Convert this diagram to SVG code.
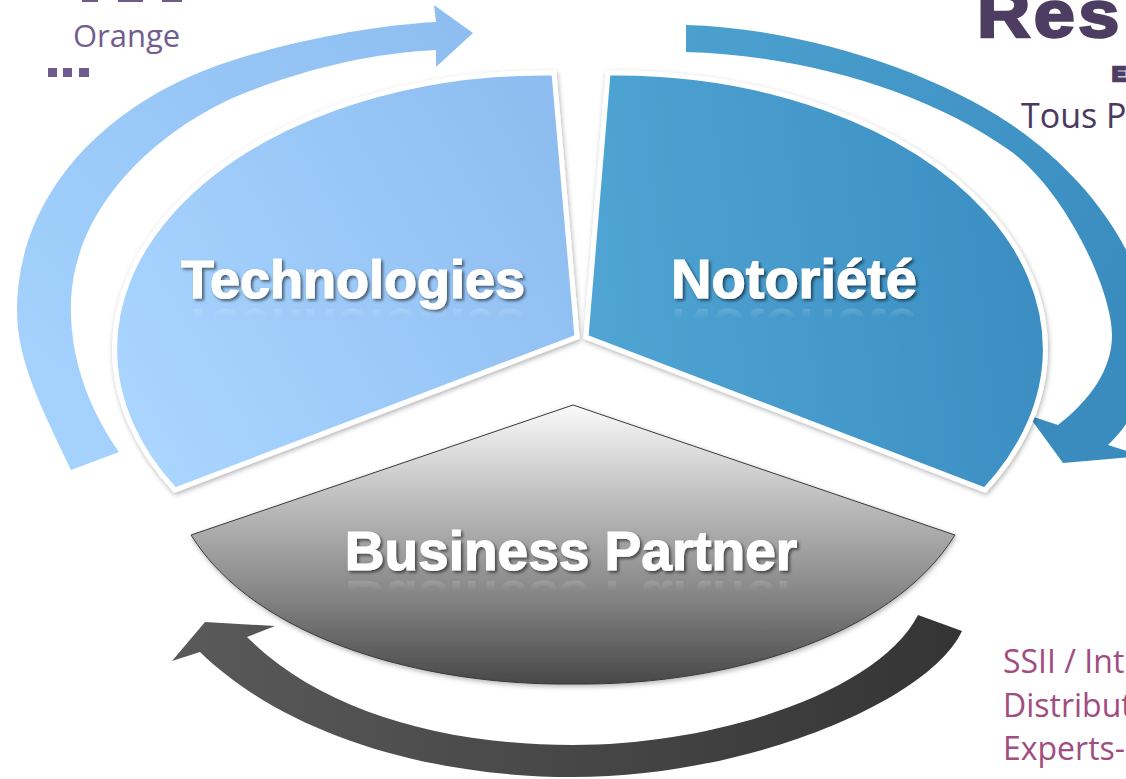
<svg xmlns="http://www.w3.org/2000/svg" width="1126" height="779" viewBox="0 0 1126 779">
  <defs>
    <style>
      .lbl { font-family: "Liberation Sans", Arial, sans-serif; font-weight: bold; fill: #ffffff; stroke: #ffffff; stroke-width: 1.2; }
      .refl { font-family: "Liberation Sans", Arial, sans-serif; font-weight: bold; fill: #ffffff; }
      .side { font-family: "Open Sans", "Liberation Sans", sans-serif; }
      .heavy { font-family: "Liberation Sans", Arial, sans-serif; font-weight: bold; fill: #4E3D62; stroke: #4E3D62; stroke-width: 2.5; }
    </style>
    <linearGradient id="gTech" x1="130" y1="420" x2="580" y2="150" gradientUnits="userSpaceOnUse">
      <stop offset="0" stop-color="#A9D5FF"/>
      <stop offset="1" stop-color="#8DBCF0"/>
    </linearGradient>
    <linearGradient id="gArrL" x1="60" y1="460" x2="470" y2="30" gradientUnits="userSpaceOnUse">
      <stop offset="0" stop-color="#A6D3FE"/>
      <stop offset="1" stop-color="#8EBEF1"/>
    </linearGradient>
    <linearGradient id="gNoto" x1="600" y1="300" x2="1030" y2="250" gradientUnits="userSpaceOnUse">
      <stop offset="0" stop-color="#4FA4D3"/>
      <stop offset="1" stop-color="#3B8EC2"/>
    </linearGradient>
    <linearGradient id="gArrR" x1="690" y1="40" x2="1126" y2="300" gradientUnits="userSpaceOnUse">
      <stop offset="0" stop-color="#4BA0CF"/>
      <stop offset="1" stop-color="#3A8CBF"/>
    </linearGradient>
    <linearGradient id="gBP" x1="0" y1="405" x2="0" y2="686" gradientUnits="userSpaceOnUse">
      <stop offset="0" stop-color="#FAFAFA"/>
      <stop offset="0.3" stop-color="#C4C4C4"/>
      <stop offset="0.65" stop-color="#8A8A8A"/>
      <stop offset="1" stop-color="#474747"/>
    </linearGradient>
    <linearGradient id="gArrB" x1="170" y1="0" x2="965" y2="0" gradientUnits="userSpaceOnUse">
      <stop offset="0" stop-color="#5A5A5A"/>
      <stop offset="1" stop-color="#343434"/>
    </linearGradient>
    <linearGradient id="gFade" x1="0" y1="0" x2="0" y2="1">
      <stop offset="0" stop-color="#fff" stop-opacity="0.2"/>
      <stop offset="1" stop-color="#fff" stop-opacity="0"/>
    </linearGradient>
    <mask id="mRefl1" maskUnits="userSpaceOnUse" x="0" y="300" width="1126" height="30">
      <rect x="0" y="305" width="1126" height="14" fill="url(#gFade)"/>
    </mask>
    <mask id="mRefl2" maskUnits="userSpaceOnUse" x="0" y="572" width="1126" height="30">
      <rect x="0" y="577" width="1126" height="14" fill="url(#gFade)"/>
    </mask>
    <filter id="fShadow" x="-10%" y="-10%" width="120%" height="120%">
      <feDropShadow dx="1" dy="2" stdDeviation="2.5" flood-color="#000" flood-opacity="0.3"/>
    </filter>
    <filter id="fText" x="-5%" y="-20%" width="110%" height="140%">
      <feDropShadow dx="2" dy="2" stdDeviation="1.5" flood-color="#000" flood-opacity="0.55"/>
    </filter>
  </defs>

  <rect width="1126" height="779" fill="#ffffff"/>

  <!-- side texts -->
  <g id="text-left">
    <rect x="82" y="0" width="16" height="2" fill="#6F5A8D"/>
    <rect x="118" y="0" width="25" height="2" fill="#6F5A8D"/>
    <rect x="162" y="0" width="20" height="2" fill="#6F5A8D"/>
    <text class="side" x="73" y="47" font-size="31" fill="#725D90">Orange</text>
    <rect x="48" y="68" width="9" height="9" fill="#6F5A8D"/>
    <rect x="63" y="68" width="9" height="9" fill="#6F5A8D"/>
    <rect x="79" y="68" width="10" height="9" fill="#6F5A8D"/>
  </g>
  <g id="text-right-top">
    <text class="heavy" font-size="66" letter-spacing="3" transform="translate(977,37) scale(1.12,1)">Res</text>
    <text class="heavy" x="1112" y="81" font-size="21" stroke-width="1">E</text>
    <text class="side" x="1021" y="128" font-size="34" fill="#4A3A5E">Tous P</text>
  </g>
  <g id="text-right-bottom" fill="#A14D7F">
    <text class="side" x="1003" y="673" font-size="32">SSII / Int</text>
    <text class="side" x="1003" y="717" font-size="32">Distribut</text>
    <text class="side" x="1003" y="760" font-size="32">Experts-</text>
  </g>

  <!-- connectors (cycle arrows) -->
  <g id="connectors">
    <path id="arrow-left" fill="url(#gArrL)" d="M 71,470 C 40,405 17,360 17,310 C 17,200 100,100 240,58 C 310,37 380,25 436,22 L 434,5 L 473,33 L 436,67 L 436,50 C 370,53 300,70 235,97 C 150,135 75,210 71,300 C 69,360 90,410 119,452 Z"/>
    <path id="arrow-right" fill="url(#gArrR)" d="M 686,25 C 800,28 930,70 1009,123 C 1088,176 1150,260 1150,340 C 1150,390 1130,425 1108,445 L 1142,456 L 1063,463 L 1028,415 L 1058,425 C 1090,400 1112,370 1112,335 C 1112,290 1065,190 1009,150 C 925,90 800,55 686,52 Z"/>
    <path id="arrow-bottom" fill="url(#gArrB)" d="M 962,631 C 930,700 750,777 573,777 C 420,777 280,730 200,652 L 172,661 L 205,622 L 275,626 L 247,637 C 320,710 440,745 573,745 C 720,745 880,690 918,615 Z"/>
  </g>

  <!-- nodes -->
  <g id="node-technologies">
    <path filter="url(#fShadow)" fill="url(#gTech)" stroke="#ffffff" stroke-width="5" stroke-linejoin="miter" d="M 577,337 L 554,73 A 430 276 0 0 0 175,490 Z"/>
    <text class="lbl" x="353" y="298" font-size="54" text-anchor="middle" filter="url(#fText)">Technologies</text>
    <g mask="url(#mRefl1)">
      <text class="refl" x="353" y="298" font-size="54" text-anchor="middle" transform="translate(0,607) scale(1,-1)">Technologies</text>
    </g>
  </g>

  <g id="node-notoriete">
    <path filter="url(#fShadow)" fill="url(#gNoto)" stroke="#ffffff" stroke-width="5" stroke-linejoin="miter" d="M 586,337 L 608,73 A 430 276 0 0 1 985,490 Z"/>
    <text class="lbl" x="794" y="298" font-size="56" text-anchor="middle" filter="url(#fText)">Notoriété</text>
    <g mask="url(#mRefl1)">
      <text class="refl" x="794" y="298" font-size="56" text-anchor="middle" transform="translate(0,607) scale(1,-1)">Notoriété</text>
    </g>
  </g>

  <g id="node-business-partner">
    <path filter="url(#fShadow)" fill="url(#gBP)" stroke="#3a3a3a" stroke-width="1" d="M 573,405 L 955,535 C 890,640 720,686 573,684 C 426,686 256,640 191,535 Z"/>
    <text class="lbl" x="571" y="570" font-size="55" text-anchor="middle" filter="url(#fText)">Business Partner</text>
    <g mask="url(#mRefl2)">
      <text class="refl" x="571" y="570" font-size="55" text-anchor="middle" transform="translate(0,1151) scale(1,-1)">Business Partner</text>
    </g>
  </g>
</svg>
